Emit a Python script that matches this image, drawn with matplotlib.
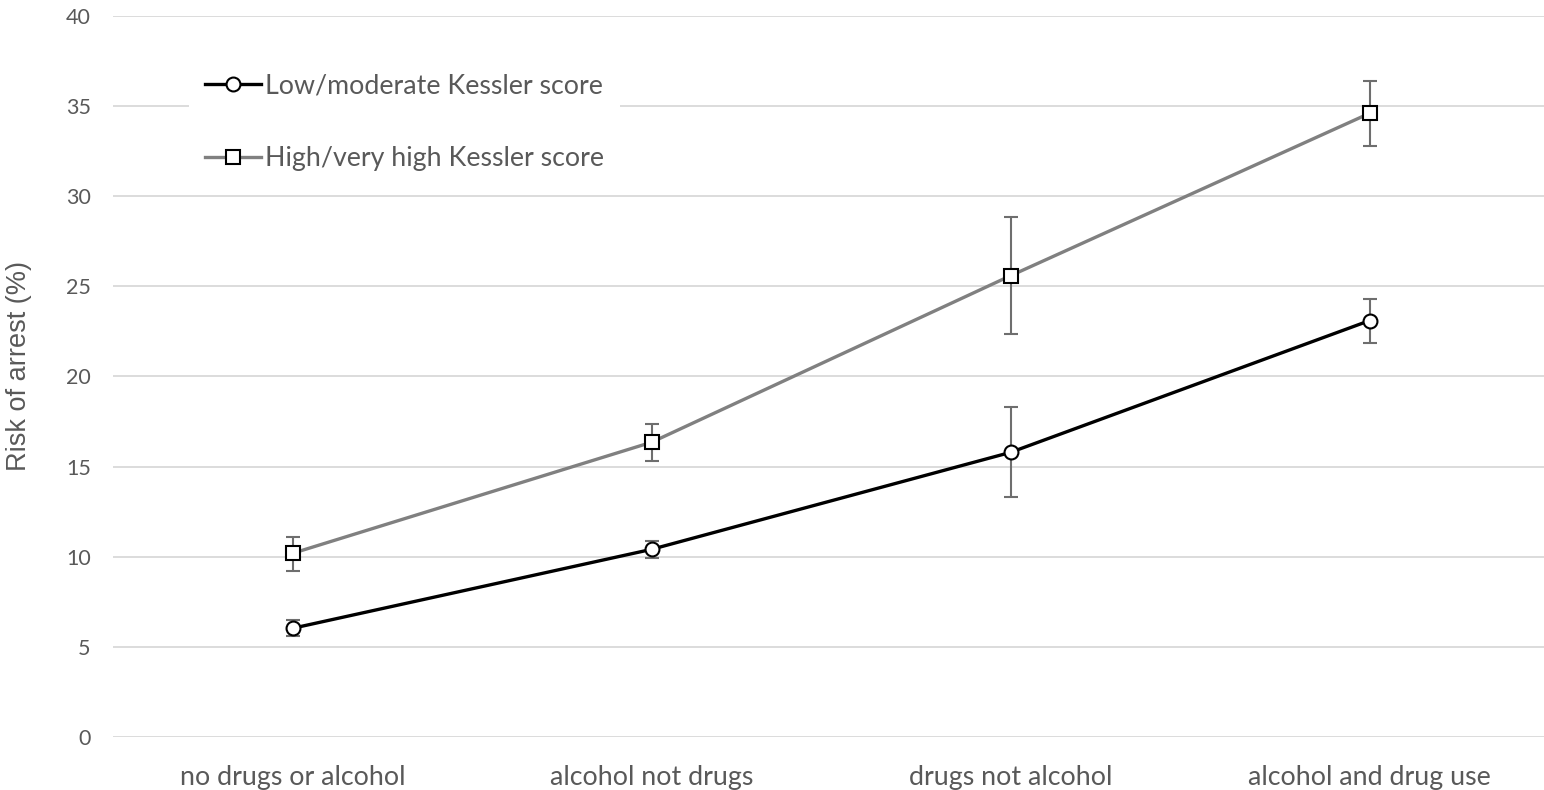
import matplotlib
matplotlib.use("Agg")
import matplotlib.pyplot as plt
import numpy as np

categories = ["no drugs or alcohol", "alcohol not drugs", "drugs not alcohol", "alcohol and drug use"]

low_label = "Low/moderate Kessler score"
low_vals = [6.03, 10.41, 15.79, 23.1]
low_lower = [5.60, 9.93, 13.33, 21.88]
low_upper = [6.49, 10.89, 18.29, 24.28]

high_label = "High/very high Kessler score"
high_vals = [10.19, 16.35, 25.59, 34.6]
high_lower = [9.23, 15.33, 22.36, 32.79]
high_upper = [11.08, 17.36, 28.83, 36.39]

y_ticks = [0, 5, 10, 15, 20, 25, 30, 35, 40]
y_label = "Risk of arrest (%)"

W, H = 1544, 790
fig = plt.figure(figsize=(W / 100, H / 100), dpi=100)
ax = fig.add_axes([113 / W, (H - 737) / H, (1549 - 113) / W, (737 - 16) / H])

x = np.arange(len(categories))
text_color = "#595959"
err_color = "#6e6e6e"
body_font = ["Lato", "DejaVu Sans"]

for vals, lo, hi, color, marker, label in [
    (low_vals, low_lower, low_upper, "black", "o", low_label),
    (high_vals, high_lower, high_upper, "#808080", "s", high_label),
]:
    v = np.array(vals)
    yerr = np.vstack([v - np.array(lo), np.array(hi) - v])
    ax.errorbar(x, v, yerr=yerr, fmt="none", ecolor=err_color, elinewidth=1.5,
                capsize=5, capthick=1.5, zorder=3)
    ax.plot(x, v, color=color, lw=2.4, marker=marker, markersize=10,
            markerfacecolor="white", markeredgecolor="black", markeredgewidth=1.5,
            label=label, zorder=4)

ax.set_xlim(-0.5, len(categories) - 0.5)
ax.set_ylim(0, 40)
ax.set_yticks(y_ticks)
ax.set_xticks(x)
ax.set_xticklabels(categories, fontsize=19.3, color=text_color, family=body_font)
ax.set_yticklabels([str(t) for t in y_ticks], fontsize=15.5, color=text_color, family=body_font)
ax.tick_params(axis="both", length=0)
ax.tick_params(axis="x", pad=20)
ax.tick_params(axis="y", pad=16)
ax.grid(axis="y", color="#d9d9d9", lw=1.3)
ax.set_axisbelow(True)
for s in ax.spines.values():
    s.set_visible(False)

ax.set_ylabel(y_label, fontsize=19.5, color=text_color,
              family=["Liberation Sans Narrow", "Liberation Sans", "DejaVu Sans"])
ax.yaxis.set_label_coords((32 - 113) / 1436, 0.515)

leg = ax.legend(loc="upper left", bbox_to_anchor=(0.0529, 0.943), frameon=True,
                handlelength=2.1, handletextpad=0.12, labelspacing=1.8,
                borderpad=0.6, borderaxespad=0,
                prop={"family": body_font, "size": 19.3})
leg.get_frame().set_facecolor("white")
leg.get_frame().set_edgecolor("none")
leg.get_frame().set_alpha(1)
for t in leg.get_texts():
    t.set_color(text_color)

fig.savefig("out.png", dpi=100, facecolor="white")
